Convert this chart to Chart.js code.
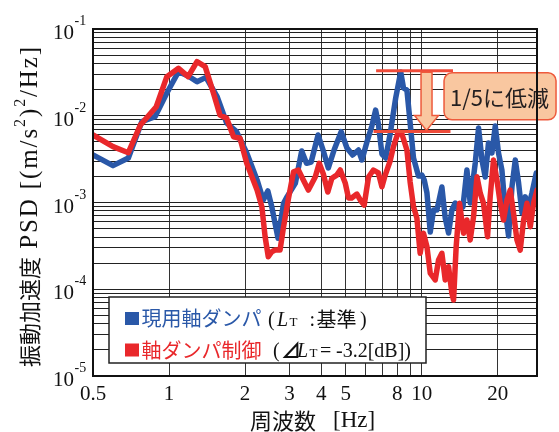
<!DOCTYPE html>
<html>
<head>
<meta charset="utf-8">
<script src="https://cdn.jsdelivr.net/npm/chart.js@4.4.1/dist/chart.umd.min.js"></script>
<style>
  html, body { margin: 0; padding: 0; background: #fff; }
  #wrap { width: 559px; height: 432px; }
</style>
</head>
<body>
<div id="wrap"><canvas id="c" width="559" height="432"></canvas></div>
<script>
// 現用軸ダンパ: frequency [Hz] and acceleration PSD [(m/s^2)^2/Hz]
const freqCurrent = [0.50,0.60,0.69,0.78,0.88,0.98,1.09,1.19,1.29,1.40,1.55,1.69,1.85,2.03,2.23,2.36,2.46,2.55,2.70,2.84,
  2.93,3.16,3.35,3.50,3.65,3.89,4.07,4.27,4.50,4.80,5.06,5.33,5.62,5.80,6.07,6.35,6.57,6.74,6.96,7.20,
  7.50,7.89,8.26,8.47,8.74,9.00,9.28,9.71,10.02,10.23,10.49,10.81,11.14,11.49,12.02,12.39,12.77,13.17,13.57,13.99,
  14.56,15.10,15.56,16.29,16.79,17.32,17.84,18.38,18.97,19.55,20.14,20.77,21.41,22.07,22.76,23.46,24.18,24.94,25.70,26.49,
  27.32,28.41];
const psdCurrent = [3.53e-3,2.66e-3,3.26e-3,8.54e-3,9.75e-3,1.83e-2,3.22e-2,2.87e-2,2.47e-2,2.77e-2,1.66e-2,8.25e-3,6.55e-3,3.72e-3,1.82e-3,1.07e-3,1.36e-3,8.94e-4,3.87e-4,9.79e-4,
  1.16e-3,1.66e-3,3.92e-3,2.83e-3,2.93e-3,6.00e-3,4.03e-3,2.50e-3,4.03e-3,6.55e-3,4.25e-3,3.53e-3,4.03e-3,3.09e-3,4.98e-3,7.62e-3,1.16e-2,8.04e-3,3.62e-3,3.26e-3,
  6.16e-3,1.60e-2,3.19e-2,2.09e-2,1.98e-2,8.25e-3,3.26e-3,2.02e-3,2.07e-3,1.82e-3,1.29e-3,4.57e-4,8.19e-4,8.19e-4,1.51e-3,6.63e-4,4.45e-4,8.19e-4,9.87e-4,8.19e-4,
  8.87e-4,2.37e-3,9.87e-4,2.85e-3,7.22e-3,3.09e-3,1.97e-3,4.85e-3,3.72e-3,7.62e-3,3.72e-3,2.37e-3,8.19e-4,4.11e-4,1.51e-3,3.09e-3,1.68e-3,7.57e-4,1.16e-3,8.87e-4,
  1.29e-3,2.19e-3];

// 軸ダンパ制御: frequency [Hz] and acceleration PSD [(m/s^2)^2/Hz]
const freqControl = [0.50,0.60,0.69,0.77,0.89,0.98,1.09,1.19,1.29,1.39,1.50,1.59,1.69,1.80,1.91,2.03,2.23,2.33,2.40,2.47,
  2.55,2.63,2.75,2.84,2.97,3.11,3.25,3.40,3.56,3.79,3.93,4.08,4.25,4.41,4.61,4.76,4.98,5.13,5.28,5.54,
  5.71,5.92,6.16,6.44,6.74,6.96,7.17,7.50,7.73,8.09,8.35,8.74,9.00,9.28,9.57,9.86,10.16,10.49,10.81,11.31,
  11.66,12.02,12.39,12.77,13.17,13.37,13.69,14.12,14.64,15.10,15.56,16.04,16.55,17.05,17.57,18.22,18.67,19.24,19.85,20.46,
  21.08,21.75,22.41,23.10,23.82,24.55,25.31,26.10,26.90,27.72,28.59];
const psdControl = [6.00e-3,4.40e-3,3.75e-3,7.82e-3,1.27e-2,2.82e-2,3.52e-2,2.82e-2,4.20e-2,3.68e-2,1.81e-2,1.02e-2,9.35e-3,5.73e-3,5.50e-3,2.83e-3,1.39e-3,8.94e-4,4.03e-4,2.37e-4,
  2.71e-4,2.83e-4,2.83e-4,5.26e-4,1.12e-3,2.26e-3,2.37e-3,1.82e-3,1.39e-3,1.97e-3,2.83e-3,2.13e-3,1.32e-3,1.90e-3,2.07e-3,2.37e-3,1.68e-3,1.13e-3,1.13e-3,1.25e-3,
  1.07e-3,9.36e-4,1.97e-3,2.37e-3,2.19e-3,1.52e-3,2.07e-3,3.01e-3,4.40e-3,6.55e-3,6.16e-3,4.03e-3,1.72e-3,8.94e-4,6.63e-4,2.60e-4,4.42e-4,3.09e-4,1.53e-4,1.28e-4,
  2.17e-4,2.60e-4,1.28e-4,1.82e-4,8.98e-5,7.52e-5,3.09e-4,9.79e-4,4.42e-4,6.29e-4,3.70e-4,6.86e-4,1.98e-3,1.28e-3,9.79e-4,4.03e-4,1.17e-3,3.09e-3,1.82e-3,9.79e-4,
  6.29e-4,1.07e-3,1.39e-3,7.51e-4,3.70e-4,2.83e-4,6.29e-4,9.79e-4,5.26e-4,9.79e-4,1.39e-3];

// axis ticks
const xGridValues = [0.5, 1, 2, 3, 4, 5, 6, 7, 8, 9, 10, 20];
const xTickLabels = [0.5, 1, 2, 3, 4, 5, 8, 10, 20];
const yDecadeExponents = [-5, -4, -3, -2, -1];

// legend entries
const seriesNames = ['現用軸ダンパ', '軸ダンパ制御'];

// peak reduction note around 8 Hz
const peakCurrentLevel = 0.033;
const reductionFactor = 5;
const reductionLabel = '1/5に低減';

const BLUE = '#2a58a8';
const RED = '#e9282b';
const SERIF = '"Liberation Serif", "Times New Roman", serif';
const CJK = '"Noto Sans CJK JP", "Noto Sans", sans-serif';

// y grid: 1..9 × each decade, plus the top decade
const yGridValues = [];
yDecadeExponents.forEach((e, i) => {
  if (i === yDecadeExponents.length - 1) { yGridValues.push(Math.pow(10, e)); return; }
  for (let m = 1; m <= 9; m++) yGridValues.push(m * Math.pow(10, e));
});

const toPoints = (xs, ys) => xs.map((x, i) => ({ x: x, y: ys[i] }));

function drawRuns(ctx, y, runs) {
  runs.forEach(r => {
    ctx.font = r.font;
    ctx.fillStyle = r.color || '#111';
    ctx.fillText(r.t, r.at, y + (r.dy || 0));
  });
}

const decorations = {
  id: 'decorations',
  afterDatasetsDraw(chart) {
    const ctx = chart.ctx;
    const xs = chart.scales.x, ys = chart.scales.y;
    const a = chart.chartArea;
    ctx.save();

    // reduction markers
    const yTop = ys.getPixelForValue(peakCurrentLevel);
    const yBot = ys.getPixelForValue(peakCurrentLevel / reductionFactor);
    ctx.strokeStyle = '#ef4b3a';
    ctx.lineWidth = 3;
    ctx.beginPath();
    ctx.moveTo(xs.getPixelForValue(6.6), yTop);
    ctx.lineTo(xs.getPixelForValue(13.3), yTop);
    ctx.moveTo(xs.getPixelForValue(6.45), yBot);
    ctx.lineTo(xs.getPixelForValue(13.0), yBot);
    ctx.stroke();

    // hollow down arrow
    const ax = xs.getPixelForValue(10.45);
    const headTop = yBot - 16;
    ctx.beginPath();
    ctx.moveTo(ax - 5.5, yTop + 1.5);
    ctx.lineTo(ax + 5.5, yTop + 1.5);
    ctx.lineTo(ax + 5.5, headTop);
    ctx.lineTo(ax + 12, headTop);
    ctx.lineTo(ax, yBot - 1);
    ctx.lineTo(ax - 12, headTop);
    ctx.lineTo(ax - 5.5, headTop);
    ctx.closePath();
    ctx.fillStyle = '#f9c7a0';
    ctx.fill();
    ctx.lineWidth = 1.5;
    ctx.strokeStyle = '#ee5a3c';
    ctx.stroke();

    // callout box
    const bx = ax + 17.5, by = yTop + 2, bw = 112, bh = 47, r = 8;
    ctx.beginPath();
    ctx.roundRect(bx, by, bw, bh, r);
    ctx.fillStyle = '#f9c7a0';
    ctx.fill();
    ctx.lineWidth = 1.5;
    ctx.strokeStyle = '#ee5a3c';
    ctx.stroke();
    ctx.fillStyle = '#231f20';
    ctx.font = '22px ' + CJK;
    ctx.textBaseline = 'middle';
    ctx.textAlign = 'left';
    ctx.fillText(reductionLabel, bx + 6, by + bh / 2 + 1);

    // legend box
    ctx.fillStyle = '#fff';
    ctx.fillRect(109, 297, 317, 66);
    ctx.lineWidth = 1.5;
    ctx.strokeStyle = '#222';
    ctx.strokeRect(109, 297, 317, 66);

    const rows = [318.5, 350];
    ctx.fillStyle = BLUE;
    ctx.fillRect(125, rows[0] - 6.5, 14, 13);
    ctx.fillStyle = RED;
    ctx.fillRect(125, rows[1] - 6.5, 14, 13);
    ctx.textBaseline = 'middle';
    ctx.font = '20px ' + CJK;
    ctx.fillStyle = BLUE;
    ctx.fillText(seriesNames[0], 141.5, rows[0]);
    ctx.fillStyle = RED;
    ctx.fillText(seriesNames[1], 141.5, rows[1]);

    ctx.textBaseline = 'alphabetic';
    const b1 = rows[0] + 7, b2 = rows[1] + 7;
    drawRuns(ctx, b1, [
      { t: '(', font: '20px ' + SERIF, at: 268 },
      { t: 'L', font: 'italic 20px ' + SERIF, at: 277 },
      { t: 'T', font: '13px ' + SERIF, at: 289.5 },
      { t: ':', font: '20px ' + SERIF, at: 309.5 },
      { t: '基準', font: '20px ' + CJK, at: 316.5, dy: 1 },
      { t: ')', font: '20px ' + SERIF, at: 360 }
    ]);
    drawRuns(ctx, b2, [
      { t: '(', font: '20px ' + SERIF, at: 273 },
      { t: '⊿', font: 'bold 20px ' + CJK, at: 281, dy: 1 },
      { t: 'L', font: 'italic 20px ' + SERIF, at: 297 },
      { t: 'T', font: '13px ' + SERIF, at: 309.5 },
      { t: '=', font: '20px ' + SERIF, at: 320 },
      { t: '-3.2[dB])', font: '20px ' + SERIF, at: 336 }
    ]);

    // plot frame
    ctx.lineWidth = 2;
    ctx.strokeStyle = '#111';
    ctx.strokeRect(a.left, a.top, a.right - a.left, a.bottom - a.top);
    ctx.restore();
  },
  afterDraw(chart) {
    const ctx = chart.ctx;
    const ys = chart.scales.y;
    ctx.save();
    ctx.fillStyle = '#111';
    ctx.textBaseline = 'alphabetic';

    // y tick labels 10^n
    yDecadeExponents.forEach(e => {
      const py = ys.getPixelForValue(Math.pow(10, e));
      ctx.font = '21px ' + SERIF;
      ctx.textAlign = 'right';
      ctx.fillText('10', 74, py + 10);
      ctx.font = '14px ' + SERIF;
      ctx.textAlign = 'left';
      ctx.fillText(String(e), 74.5, py - 4);
    });

    // y title (rotated), spread over its span
    const runs = [
      { t: '振動加速度', font: '22px ' + CJK, cjk: true },
      { t: ' PSD ', font: '25px ' + SERIF },
      { t: '[(m/s', font: '25px ' + SERIF },
      { t: '2', font: '16px ' + SERIF, dy: -9 },
      { t: ')', font: '25px ' + SERIF },
      { t: '2', font: '16px ' + SERIF, dy: -9 },
      { t: '/Hz]', font: '25px ' + SERIF }
    ];
    const span = 322;
    let natural = 0, latinChars = 0;
    runs.forEach(r => {
      ctx.font = r.font;
      natural += ctx.measureText(r.t).width;
      if (!r.cjk) latinChars += r.t.length;
    });
    const gap = Math.max(0, (span - natural) / latinChars);
    ctx.translate(30, 206);
    ctx.rotate(-Math.PI / 2);
    ctx.textAlign = 'left';
    ctx.textBaseline = 'middle';
    let cx = -span / 2;
    runs.forEach(r => {
      ctx.font = r.font;
      if (r.cjk) {
        ctx.fillText(r.t, cx, 0);
        cx += ctx.measureText(r.t).width;
      } else {
        for (const ch of r.t) {
          ctx.fillText(ch, cx, r.dy || 0);
          cx += ctx.measureText(ch).width + gap;
        }
      }
    });
    ctx.setTransform(1, 0, 0, 1, 0, 0);

    // x title
    ctx.textBaseline = 'middle';
    ctx.textAlign = 'left';
    ctx.font = '22px ' + CJK;
    ctx.fillText('周波数', 250, 421);
    ctx.font = '23px ' + SERIF;
    ctx.fillText('[Hz]', 333, 421);
    ctx.restore();
  }
};

new Chart(document.getElementById('c'), {
  type: 'line',
  data: {
    datasets: [
      {
        label: seriesNames[1],
        data: toPoints(freqControl, psdControl),
        borderColor: RED, borderWidth: 5.5, pointRadius: 0,
        borderJoinStyle: 'round', borderCapStyle: 'round', tension: 0, fill: false, order: 1
      },
      {
        label: seriesNames[0],
        data: toPoints(freqCurrent, psdCurrent),
        borderColor: BLUE, borderWidth: 5.5, pointRadius: 0,
        borderJoinStyle: 'round', borderCapStyle: 'round', tension: 0, fill: false, order: 2
      }
    ]
  },
  options: {
    responsive: false,
    animation: false,
    devicePixelRatio: 1,
    layout: { padding: { left: 0, right: 22, top: 29, bottom: 0 } },
    scales: {
      x: {
        type: 'logarithmic', min: 0.5, max: 28.6,
        afterBuildTicks: s => { s.ticks = xGridValues.map(v => ({ value: v })); },
        afterFit: s => { s.height = 56; },
        ticks: {
          autoSkip: false, maxRotation: 0, minRotation: 0, padding: 6,
          color: '#111', font: { family: SERIF, size: 21 },
          callback: v => (xTickLabels.includes(v) ? String(v) : '')
        },
        grid: { color: '#333', lineWidth: 1, drawTicks: false },
        border: { display: false }
      },
      y: {
        type: 'logarithmic', min: 1e-5, max: 1e-1,
        afterBuildTicks: s => { s.ticks = yGridValues.map(v => ({ value: v })); },
        afterFit: s => { s.width = 93; },
        ticks: { display: false },
        grid: { color: '#222', lineWidth: 1, drawTicks: false },
        border: { display: false }
      }
    },
    plugins: { legend: { display: false }, tooltip: { enabled: false } }
  },
  plugins: [decorations]
});
</script>
</body>
</html>
